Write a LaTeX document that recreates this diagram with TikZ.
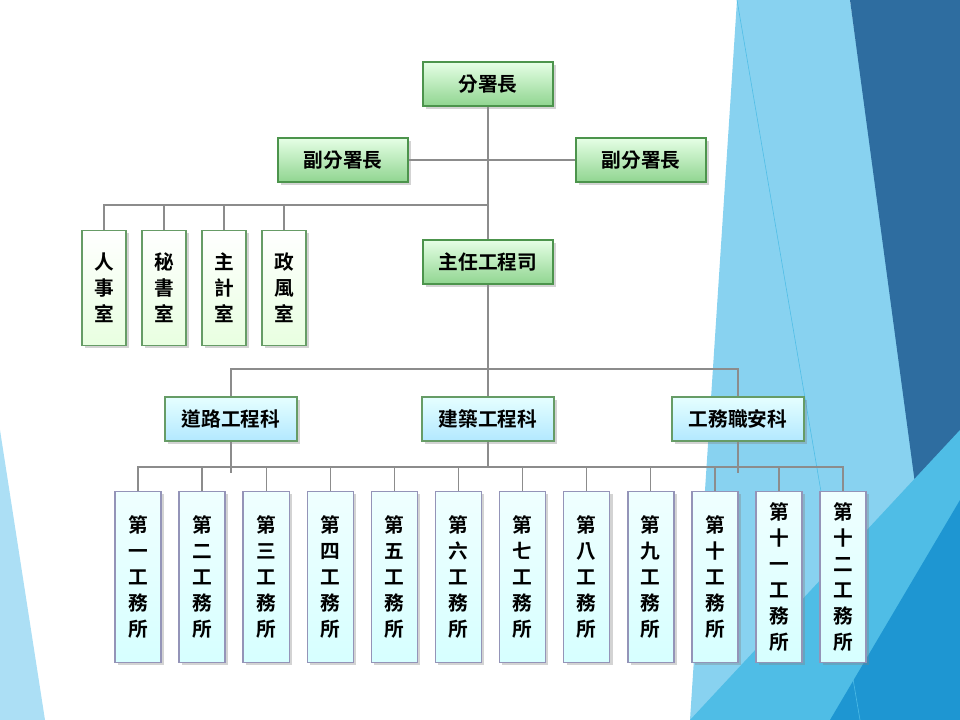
\documentclass[tikz,border=0pt]{standalone}
\usepackage{fontspec}
\usepackage{xcolor}
\usetikzlibrary{calc, shadows}
\newfontfamily\cjk{Noto Sans CJK TC}[BoldFont={Noto Sans CJK TC Bold}]

\definecolor{facetdark}{HTML}{2E6DA0}
\definecolor{facetlight}{HTML}{88D2F0}
\definecolor{facetmid}{HTML}{4FBDE6}
\definecolor{facetdeep}{HTML}{1E96D2}
\definecolor{linkgray}{HTML}{8C8C8C}

\tikzset{
  box/.style={rectangle, inner sep=0pt, font=\cjk\bfseries\fontsize{14}{18.5}\selectfont,
    line width=1pt, drop shadow={shadow xshift=2pt, shadow yshift=-2pt, opacity=0.35}},
  headbox/.style={box, minimum width=3.25cm, minimum height=1.1cm,
    draw=green!40!black!70, top color=green!10!white, bottom color=green!45!gray!60},
  staffbox/.style={box, minimum width=1.1cm, minimum height=2.875cm, align=center,
    draw=green!35!black!60, top color=white, bottom color=yellow!25!green!12},
  sectbox/.style={box, minimum width=3.3cm, minimum height=1.1cm,
    draw=green!35!black!60, top color=cyan!10!white, bottom color=blue!30!cyan!30},
  officebox/.style={box, minimum width=1.15cm, minimum height=4.275cm, align=center,
    draw=blue!20!gray!70, top color=cyan!6!white, bottom color=cyan!16},
  link/.style={draw=linkgray, line width=0.9pt}
}

\begin{document}
\begin{tikzpicture}[x=0.025cm, y=-0.025cm]
  \useasboundingbox (0,0) rectangle (960,720);
  % background facets
  \fill[facetlight] (737,0) -- (850,0) -- (935,600) -- (880,720) -- (690,720) -- cycle;
  \fill[facetdark] (850,0) -- (960,0) -- (960,520) -- (927,573) -- cycle;
  \fill[facetmid] (690,720) -- (960,430) -- (960,720) -- cycle;
  \fill[facetdeep] (960,500) -- (960,720) -- (830,720) -- cycle;
  \fill[facetlight!70] (0,430) -- (45,720) -- (0,720) -- cycle;
  \draw[facetmid, line width=0.4pt] (737,0) -- (860,720);

  % top levels
  \node[headbox] (boss) at (488,84) {分署長};
  \node[headbox] (depl) at (343,160) {副分署長};
  \node[headbox] (depr) at (641,160) {副分署長};
  \node[headbox] (chief) at (488,262) {主任工程司};

  % staff offices
  \node[staffbox] (staff1) at (104,288) {人\\事\\室};
  \node[staffbox] (staff2) at (164,288) {秘\\書\\室};
  \node[staffbox] (staff3) at (224,288) {主\\計\\室};
  \node[staffbox] (staff4) at (284,288) {政\\風\\室};

  % sections
  \node[sectbox] (road) at (231,419) {道路工程科};
  \node[sectbox] (build) at (488,419) {建築工程科};
  \node[sectbox] (safe) at (738,419) {工務職安科};

  % works offices
  \foreach \i/\num [count=\k from 0] in {1/一, 2/二, 3/三, 4/四, 5/五, 6/六, 7/七, 8/八, 9/九, 10/十}
    \node[officebox] (office\i) at (138+64.1*\k,577) {第\\\num\\工\\務\\所};
  \node[officebox] (office11) at (779,577) {第\\十\\一\\工\\務\\所};
  \node[officebox] (office12) at (843,577) {第\\十\\二\\工\\務\\所};

  % connectors
  \coordinate (staffbus) at (488,205);
  \coordinate (sectbus) at (488,369);
  \coordinate (officebus) at (488,467);
  \draw[link] (boss) -- (chief);
  \draw[link] (depl) -- (depr);
  \draw[link] (staffbus) -- (staffbus -| staff1) -- (staff1);
  \foreach \s in {2,3,4}
    \draw[link] (staffbus -| staff\s) -- (staff\s);
  \draw[link] (chief) -- (build);
  \draw[link] (road) -- (road |- sectbus) -- (safe |- sectbus) -- (safe);
  \draw[link] (build) -- (officebus);
  \draw[link] (road) -- ($(road |- officebus)+(0,6)$);
  \draw[link] (safe) -- ($(safe |- officebus)+(0,6)$);
  \draw[link] (office1) -- (office1 |- officebus) -- (office12 |- officebus) -- (office12);
  \foreach \o in {2,...,11}
    \draw[link] (office\o |- officebus) -- (office\o);
\end{tikzpicture}
\end{document}
